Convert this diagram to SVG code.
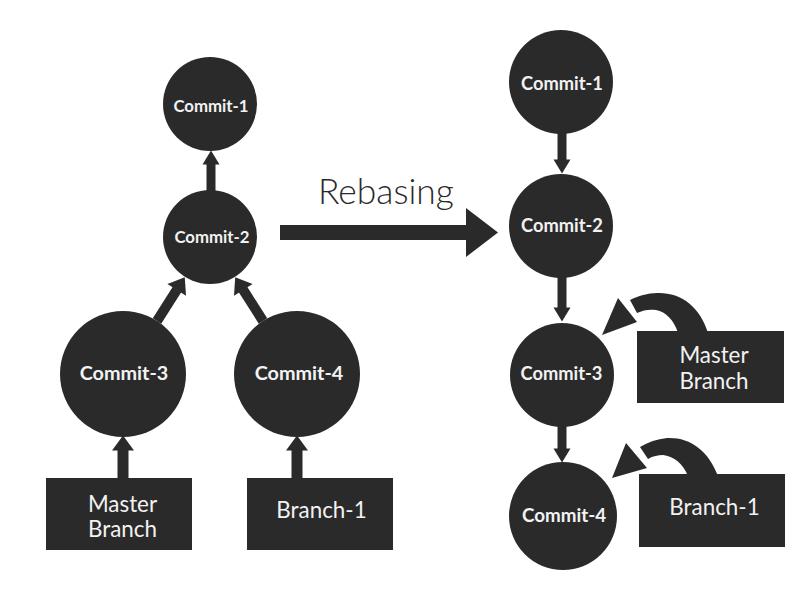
<svg xmlns="http://www.w3.org/2000/svg" width="800" height="600" viewBox="0 0 800 600">
<style>
.n{fill:#2a2a2a}
.c{fill:#f2f2f2;font-family:Lato,"Liberation Sans",sans-serif;font-weight:700;text-anchor:middle}
.b{fill:#f2f2f2;font-family:Lato,"Liberation Sans",sans-serif;font-weight:400;font-size:22.4px;text-anchor:middle}
.s{fill:none;stroke:#2a2a2a}
.f{fill:#2a2a2a}
</style>
<defs>
<marker id="big" markerUnits="userSpaceOnUse" viewBox="0 -11 15 22" markerWidth="15" markerHeight="22" refX="0.5" refY="0" orient="auto" overflow="visible">
<path d="M0,-11 L15,0 L0,11 Z" fill="#2a2a2a"/>
</marker>
<marker id="sm" markerUnits="userSpaceOnUse" viewBox="0 -8.5 14 17" markerWidth="14" markerHeight="17" refX="0.5" refY="0" orient="auto" overflow="visible">
<path d="M0,-8.5 L14,0 L0,8.5 Z" fill="#2a2a2a"/>
</marker>
</defs>
<rect width="800" height="600" fill="#ffffff"/>
<g id="connectors">
<line class="s" stroke-width="9" x1="211" y1="191" x2="211" y2="164" marker-end="url(#sm)"/>
<line class="s" stroke-width="10" x1="157" y1="321" x2="177" y2="289.5" marker-end="url(#big)"/>
<line class="s" stroke-width="10" x1="263" y1="321" x2="243" y2="289.5" marker-end="url(#big)"/>
<line class="s" stroke-width="11" x1="123" y1="479" x2="123" y2="450" marker-end="url(#big)"/>
<line class="s" stroke-width="11" x1="297" y1="479" x2="297" y2="450" marker-end="url(#big)"/>
<polygon class="f" points="280,225 466,225 466,208 498,232.5 466,257 466,240 280,240"/>
<line class="s" stroke-width="9" x1="562" y1="133" x2="562" y2="160" marker-end="url(#sm)"/>
<line class="s" stroke-width="9" x1="562" y1="277" x2="562" y2="308" marker-end="url(#sm)"/>
<line class="s" stroke-width="9" x1="562" y1="426" x2="562" y2="449" marker-end="url(#sm)"/>
<path class="f" d="M708,333 C700,306 680,292 657,293 C648,293 638,296 630,300 L637,313 C643,310 650,309 656,310 C666,312 674,320 678,333 Z"/>
<polygon class="f" points="618,298 637,322 602,335"/>
<path class="f" d="M718,476 C708,450 690,437 667,438 C657,439 648,442 640,447 L648,459 C653,456 658,455 663,455 C673,456 683,463 688,476 Z"/>
<polygon class="f" points="626,443 647,468 612,478"/>
</g>
<text x="318" y="204" font-family="Lato,'Liberation Sans',sans-serif" font-weight="300" font-size="35.4" fill="#2a2a2a">Rebasing</text>
<g id="l-commit1"><circle class="n" cx="210" cy="104" r="47"/><text class="c" x="211" y="112" font-size="16.8">Commit-1</text></g>
<g id="l-commit2"><circle class="n" cx="210" cy="237" r="47"/><text class="c" x="212" y="243" font-size="16.8">Commit-2</text></g>
<g id="l-commit3"><circle class="n" cx="123" cy="374" r="63"/><text class="c" x="124" y="380" font-size="19.8">Commit-3</text></g>
<g id="l-commit4"><circle class="n" cx="297" cy="374" r="63"/><text class="c" x="299" y="380" font-size="19.8">Commit-4</text></g>
<g id="l-master"><rect class="n" x="46" y="478" width="146" height="72"/><text class="b" x="122.5" y="512">Master</text><text class="b" x="122.5" y="537">Branch</text></g>
<g id="l-branch1"><rect class="n" x="247" y="478" width="146" height="72"/><text class="b" x="321.5" y="518">Branch-1</text></g>
<g id="r-commit1"><circle class="n" cx="561" cy="82" r="52"/><text class="c" x="562" y="90" font-size="18.3">Commit-1</text></g>
<g id="r-commit2"><circle class="n" cx="561" cy="226" r="52"/><text class="c" x="562" y="232" font-size="18.3">Commit-2</text></g>
<g id="r-commit3"><circle class="n" cx="562" cy="375" r="52"/><text class="c" x="561.5" y="380" font-size="18.3">Commit-3</text></g>
<g id="r-commit4"><circle class="n" cx="563" cy="516" r="54"/><text class="c" x="564" y="522" font-size="18.8">Commit-4</text></g>
<g id="r-master"><rect class="n" x="637" y="331" width="147" height="72"/><text class="b" x="714" y="363">Master</text><text class="b" x="714" y="389">Branch</text></g>
<g id="r-branch1"><rect class="n" x="639" y="474" width="146" height="73"/><text class="b" x="714.5" y="515">Branch-1</text></g>
</svg>
